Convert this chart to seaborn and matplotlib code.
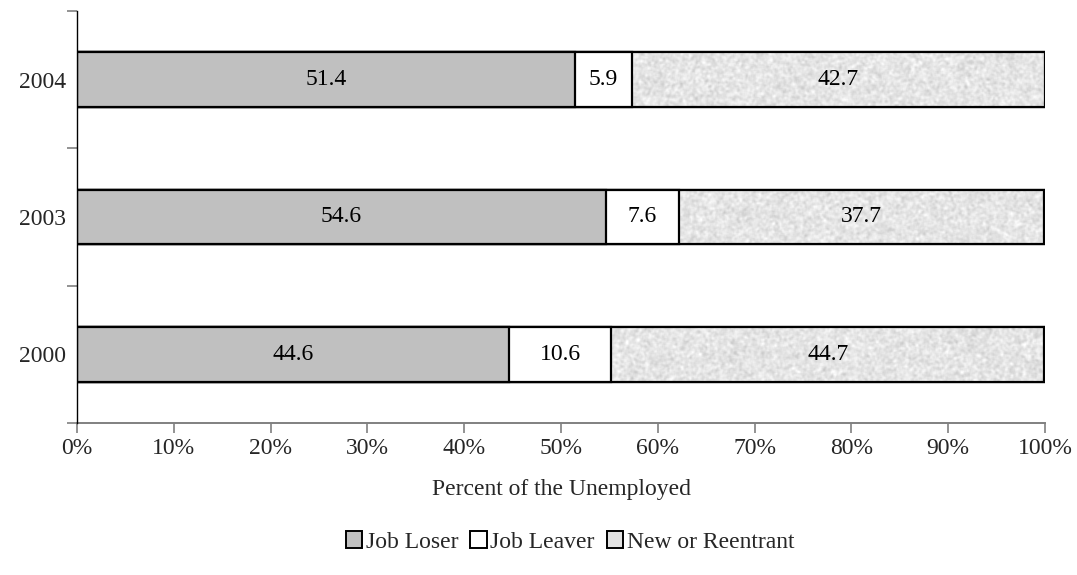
import numpy as np
import pandas as pd
import matplotlib
matplotlib.use("Agg")
import matplotlib.pyplot as plt
from matplotlib.patches import Patch
import seaborn as sns

years = ["2004", "2003", "2000"]
job_loser = [51.4, 54.6, 44.6]
job_leaver = [5.9, 7.6, 10.6]
new_reentrant = [42.7, 37.7, 44.7]
x_ticks = [0, 10, 20, 30, 40, 50, 60, 70, 80, 90, 100]

sns.set_theme(style="white")
plt.rcParams["font.family"] = ["Liberation Serif", "DejaVu Serif"]

FS = 17

df = pd.DataFrame({"year": years, "loser": job_loser,
                   "leaver": job_leaver, "new": new_reentrant})
df["cum_leaver"] = df["loser"] + df["leaver"]
df["cum_new"] = df["cum_leaver"] + df["new"]

fig = plt.figure(figsize=(10.77, 5.75), dpi=100)
ax = fig.add_axes([77 / 1077, 1 - 423 / 575, (1045 - 77) / 1077, (423 - 11) / 575])

edge = dict(edgecolor="black", linewidth=1.6)
# layered cumulative bars: full stack first, then the lower segments on top
sns.barplot(data=df, x="cum_new", y="year", order=years, color="#e2e2e2",
            width=0.4, saturation=1, ax=ax, **edge)
new_patches = list(ax.patches)
sns.barplot(data=df, x="cum_leaver", y="year", order=years, color="white",
            width=0.4, saturation=1, ax=ax, **edge)
sns.barplot(data=df, x="loser", y="year", order=years, color="#c0c0c0",
            width=0.4, saturation=1, ax=ax, **edge)
front_patches = [p for p in ax.patches if p not in new_patches]

# granite-like speckled fill for the "New or Reentrant" segment
rng = np.random.default_rng(7)
h, w = 440, 968
noise = rng.normal(0.0, 1.0, size=(h, w))
k = np.array([1, 3, 5, 3, 1], dtype=float)
k /= k.sum()
for axis in (0, 1):
    noise = np.apply_along_axis(lambda r: np.convolve(r, k, mode="same"), axis, noise)
noise /= noise.std()
tex = np.clip(0.895 + 0.028 * noise, 0.78, 1.0)
for p in new_patches:
    im = ax.imshow(tex, cmap="gray", vmin=0, vmax=1, aspect="auto",
                   extent=(0, 100, 2.6, -0.6), zorder=2,
                   interpolation="nearest")
    im.set_clip_path(p)
    ax.add_patch(plt.Rectangle(p.get_xy(), p.get_width(), p.get_height(),
                               fill=False, edgecolor="black", linewidth=1.6,
                               zorder=3))
for p in front_patches:
    p.set_zorder(5)

# value labels centred in each segment
for i, yr in enumerate(years):
    starts = [0, job_loser[i], job_loser[i] + job_leaver[i]]
    vals = [job_loser[i], job_leaver[i], new_reentrant[i]]
    for s, v in zip(starts, vals):
        ax.text(s + v / 2, i, f"{v:.1f}", ha="center", va="center",
                fontsize=FS, color="black", zorder=10)

ax.set_xlim(0, 100)
ax.set_ylim(2.5, -0.5)
ax.set_xticks(x_ticks)
ax.set_xticklabels([f"{t}%" for t in x_ticks], fontsize=FS)
ax.tick_params(axis="x", length=7, width=1.2, color="#808080",
               direction="out", bottom=True, pad=4)
ax.set_yticks(range(len(years)))
ax.set_yticklabels(years, fontsize=FS)
ax.set_yticks([-0.5, 0.5, 1.5, 2.5], minor=True)
ax.tick_params(axis="y", which="major", length=0, pad=8)
ax.tick_params(axis="y", which="minor", length=7, width=1.2, color="#808080",
               direction="out", left=True)
ax.set_xlabel("Percent of the Unemployed", fontsize=FS, labelpad=14)
ax.set_ylabel("")

for side in ["top", "right"]:
    ax.spines[side].set_visible(False)
ax.spines["bottom"].set_color("#808080")
ax.spines["bottom"].set_linewidth(1.4)
ax.spines["left"].set_color("black")
ax.spines["left"].set_linewidth(1.0)
ax.spines["left"].set_zorder(6)

handles = [Patch(facecolor="#c0c0c0", edgecolor="black", linewidth=1.4, label="Job Loser"),
           Patch(facecolor="white", edgecolor="black", linewidth=1.4, label="Job Leaver"),
           Patch(facecolor="#e2e2e2", edgecolor="black", linewidth=1.4, label="New or Reentrant")]
fig.legend(handles=handles, loc="center", bbox_to_anchor=(570 / 1077, 1 - 542 / 575),
           ncol=3, frameon=False, fontsize=FS, handlelength=0.7, handleheight=0.7,
           handletextpad=0.15, columnspacing=0.5)

fig.savefig("out.png", dpi=100)
